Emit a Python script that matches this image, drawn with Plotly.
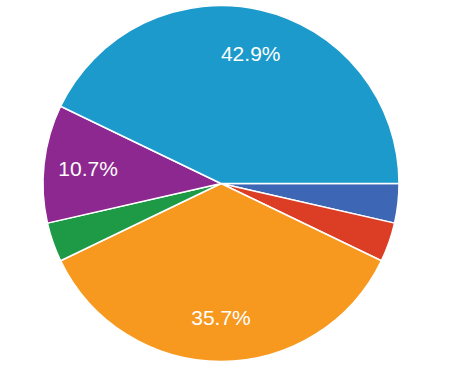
import plotly.graph_objects as go

labels = ["Option 1", "Option 2", "Option 3", "Option 4", "Option 5", "Option 6"]
values = [1, 1, 10, 1, 3, 12]
colors = ["#3d66b4", "#dc3d25", "#f7991f", "#1e9a46", "#8e2891", "#1b9acb"]

total = sum(values)
texts = [f"{v / total * 100:.1f}%" if v / total > 0.05 else "" for v in values]

common = dict(
    labels=labels,
    values=values,
    direction="clockwise",
    rotation=90,
    sort=False,
    showlegend=False,
    domain=dict(x=[0, 1], y=[0, 1]),
)

# Filled pie (no text)
fig = go.Figure(go.Pie(
    **common,
    textinfo="none",
    marker=dict(colors=colors, line=dict(color="white", width=1.5)),
    hoverinfo="label+percent",
))

# Transparent ring carrying the labels, so they sit out towards the rim
fig.add_trace(go.Pie(
    **common,
    hole=0.5,
    text=texts,
    textinfo="text",
    textposition="inside",
    insidetextorientation="horizontal",
    textfont=dict(family="Arial, Liberation Sans, sans-serif", size=21, color="white"),
    marker=dict(colors=["rgba(0,0,0,0)"] * len(values), line=dict(width=0)),
    hoverinfo="skip",
))

fig.update_layout(
    width=462, height=370,
    margin=dict(l=43, r=63, t=5, b=8),
    paper_bgcolor="white",
    plot_bgcolor="white",
)

fig.write_html("out.html")
